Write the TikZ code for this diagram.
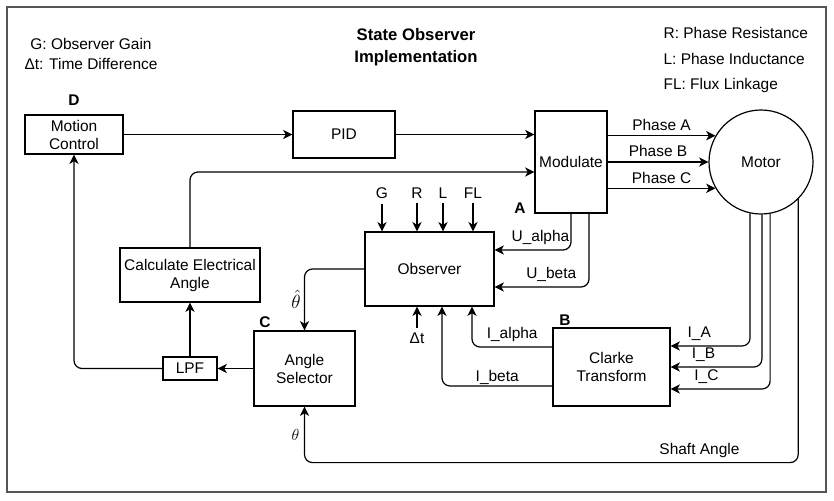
\documentclass[tikz,border=0pt]{standalone}
\usepackage{fontspec}
\setmainfont{Liberation Sans}
\usetikzlibrary{arrows.meta,calc}
\definecolor{framegray}{RGB}{85,85,85}

\begin{document}
\begin{tikzpicture}[x=0.75pt,y=-0.75pt,line width=0.9pt,
  every node/.style={font=\fontsize{11.6}{13.5}\selectfont},
  blk/.style={draw,rectangle,align=center,inner sep=1pt},
  lbl/.style={font=\fontsize{11.6}{13.5}\selectfont\bfseries},
  arr/.style={-{Stealth[length=7pt,width=7pt,inset=2pt]}},
  elb/.style={arr,rounded corners=6pt}]
\useasboundingbox (0,0) rectangle (834,500);
\draw[line width=1.5pt,draw=framegray] (7,7) rectangle (826,492);
% notes
\node[align=center,font=\fontsize{12.5}{16.5}\selectfont\bfseries] (title) at (416,47) {State Observer\\Implementation};
\node (legG) at (91,44) {G: Observer Gain};
\node (legT) at (91,64) {Δt: Time Difference};
\node[anchor=west,inner sep=0pt] (legR) at (663,33) {R: Phase Resistance};
\node[anchor=west,inner sep=0pt] (legL) at (663,59) {L: Phase Inductance};
\node[anchor=west,inner sep=0pt] (legF) at (663,85) {FL: Flux Linkage};
% blocks
\node[blk,minimum width=73.5pt,minimum height=29.25pt] (mc) at (74,134.5) {Motion\\Control};
\node[blk,minimum width=76.5pt,minimum height=35.25pt] (pid) at (344,134.5) {PID};
\node[blk,minimum width=54pt,minimum height=76.5pt] (mod) at (571,162) {Modulate};
\node[draw,circle,minimum size=78pt] (motor) at (761,162) {Motor};
\node[blk,minimum width=105pt,minimum height=40.5pt] (calc) at (190,275) {Calculate Electrical\\Angle};
\node[blk,minimum width=96.75pt,minimum height=55.5pt] (obs) at (429.5,269) {Observer};
\node[blk,minimum width=87.75pt,minimum height=58.5pt] (clarke) at (611.5,367) {Clarke\\Transform};
\node[blk,minimum width=75.75pt,minimum height=56.25pt] (sel) at (304.5,368.5) {Angle\\Selector};
\node[blk,minimum width=40.5pt,minimum height=17.25pt] (lpf) at (190,368.5) {LPF};
\node[lbl] (labD) at (74,100) {D};
\node[lbl] (labA) at (520,208) {A};
\node[lbl] (labB) at (565,320) {B};
\node[lbl] (labC) at (265,322) {C};
% observer inputs
\foreach \n/\x in {G/382,R/417,L/443,FL/473}{
  \node (in\n) at (\x,193) {\n};
  \draw[arr] (in\n) -- (in\n |- obs.north);
}
\node (dt) at (417,338) {Δt};
\draw[arr] (dt) -- (dt |- obs.south);
% forward path
\draw[arr] (mc) -- (pid);
\draw[arr] (pid) -- (pid -| mod.west);
\draw[elb] (calc.north) |- ($(mod.west)+(0,10)$);
\draw[arr] (mod.east |- motor.150) -- node[above] {Phase A} (motor.150);
\draw[arr] (mod.east |- motor.west) -- node[above] {Phase B} (motor.west);
\draw[arr] (mod.east |- motor.210) -- node[above] {Phase C} (motor.210);
% voltages to observer
\draw[elb] (mod.south) |- node[above,pos=0.7] {U\_alpha} ($(obs.east)+(0,-19)$);
\draw[elb] ($(mod.south)+(18,0)$) |- node[above,pos=0.7] {U\_beta} ($(obs.east)+(0,18)$);
% currents
\draw[elb] (motor.258) |- node[above,pos=0.82] {I\_A} ($(clarke.east)+(0,-21)$);
\draw[elb] (motor.271) |- node[above,pos=0.82] {I\_B} (clarke.east);
\draw[elb] (motor.280) |- node[above,pos=0.82] {I\_C} ($(clarke.east)+(0,22)$);
\draw[elb] ($(clarke.west)+(0,-20)$) -| node[above,pos=0.25] {I\_alpha} ($(obs.south)+(42.5,0)$);
\draw[elb] ($(clarke.west)+(0,19)$) -| node[above,pos=0.25,inner sep=0.5pt] {I\_beta} ($(obs.south)+(12.5,0)$);
% angles
\coordinate (shaft) at ($(sel.south)+(0,56)$);
\draw[elb] (motor.315) |- node[above,pos=0.6] {Shaft Angle} (shaft) -- node[left] {$\theta$} (sel.south);
\draw[elb] (obs.west) -| node[left,pos=0.75,inner sep=2.5pt,font=\fontsize{14}{16}\selectfont] {$\hat{\theta}$} (sel.north);
\draw[arr] (sel) -- (lpf);
\draw[arr] (lpf) -- (calc);
\draw[elb] (lpf.west) -| (mc.south);
\end{tikzpicture}
\end{document}
